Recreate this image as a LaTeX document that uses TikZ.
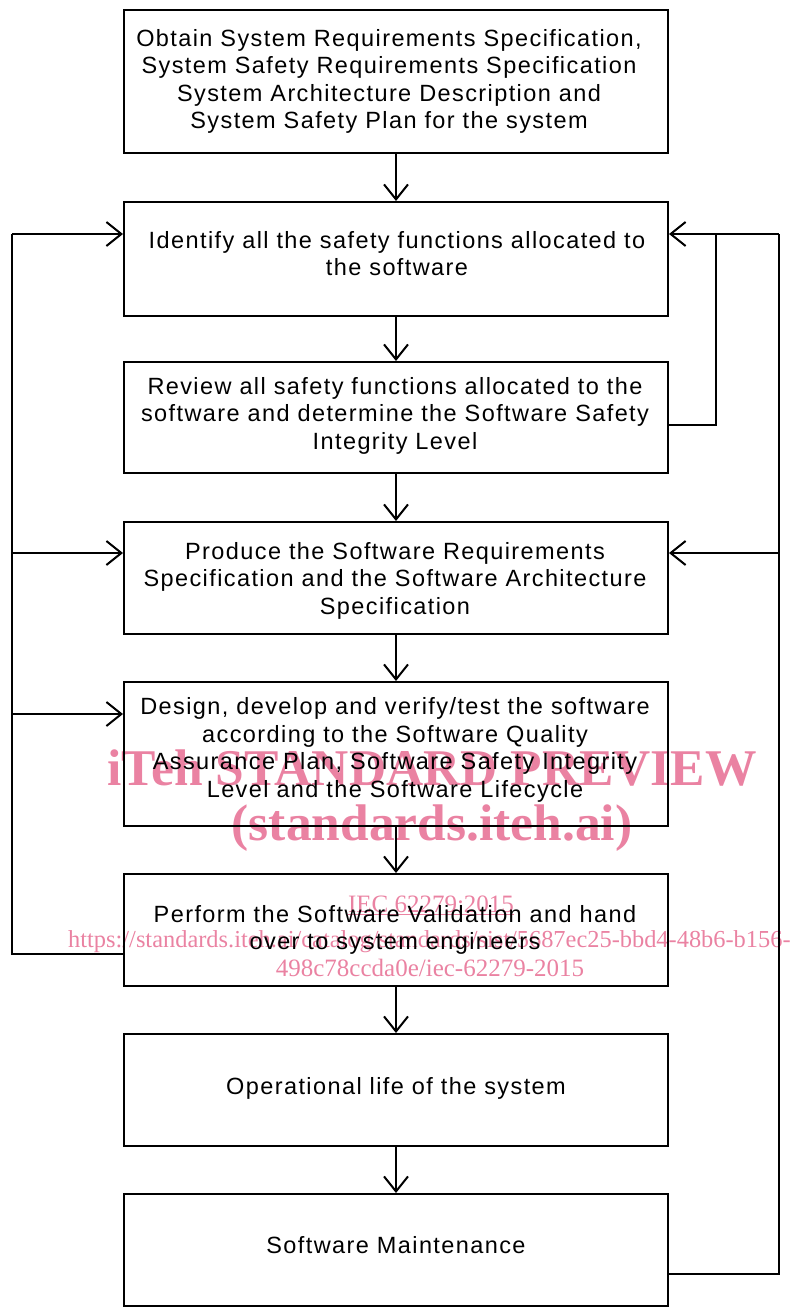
\documentclass[tikz,border=0pt]{standalone}
\usepackage{fontspec}
\setmainfont{Liberation Sans}[LetterSpace=6]
\newfontfamily\wmfont{Liberation Serif}
\usetikzlibrary{arrows.meta}
\definecolor{wmpink}{RGB}{234,130,162}
\begin{document}
\begin{tikzpicture}[x=1pt,y=-1pt,
  box/.style={draw,line width=2pt,minimum width=544pt,inner sep=0pt},
  txt/.style={align=center,inner sep=0pt,font=\fontsize{23.5}{27.5}\selectfont},
  flow/.style={line width=2pt,-{Straight Barb[length=15pt,width=24pt,line width=2pt]}},
  link/.style={line width=2pt},
  wm/.style={text=wmpink,inner sep=0pt}]
\useasboundingbox (0,0) rectangle (791,1315);
% watermark
\begin{scope}
\clip (0,0) rectangle (791,1315);
\node[wm,font=\wmfont\bfseries\fontsize{51.5}{51.5}\selectfont] (wm1) at (432,768) {iTeh STANDARD PREVIEW};
\node[wm,font=\wmfont\bfseries\fontsize{51.5}{51.5}\selectfont] (wm2) at (432,828) {(standards.iteh.ai)};
\node[wm,font=\wmfont\fontsize{25}{25}\selectfont] (wm3) at (431,905) {\underline{IEC 62279:2015}};
\node[wm,font=\wmfont\fontsize{24.4}{24.4}\selectfont,anchor=west] (wm4) at (68,942) {https://standards.iteh.ai/catalog/standards/sist/5687ec25-bbd4-48b6-b156-};
\node[wm,font=\wmfont\fontsize{25}{25}\selectfont] (wm5) at (430,968) {498c78ccda0e/iec-62279-2015};
\end{scope}
% boxes
\node[box,minimum height=143pt] (b1) at (396,81.5) {};
\node[box,minimum height=114pt] (b2) at (396,259) {};
\node[box,minimum height=111pt] (b3) at (396,417.5) {};
\node[box,minimum height=112pt] (b4) at (396,578) {};
\node[box,minimum height=144pt] (b5) at (396,754) {};
\node[box,minimum height=112pt] (b6) at (396,930) {};
\node[box,minimum height=112pt] (b7) at (396,1090) {};
\node[box,minimum height=112pt] (b8) at (396,1250) {};
% texts
\node[txt] (t1) at (389,81.5) {Obtain System Requirements Specification,\\System Safety Requirements Specification\\System Architecture Description and\\System Safety Plan for the system};
\node[txt] (t2) at (397,253.5) {Identify all the safety functions allocated to\\the software};
\node[txt] (t3) at (395,415.5) {Review all safety functions allocated to the\\software and determine the Software Safety\\Integrity Level};
\node[txt] (t4) at (395,580.5) {Produce the Software Requirements\\Specification and the Software Architecture\\Specification};
\node[txt] (t5) at (395,750) {Design, develop and verify/test the software\\according to the Software Quality\\Assurance Plan, Software Safety Integrity\\Level and the Software Lifecycle};
\node[txt] (t6) at (395,930) {Perform the Software Validation and hand\\over to system engineers};
\node[txt] (t7) at (396,1088) {Operational life of the system};
\node[txt] (t8) at (396,1245) {Software Maintenance};
% main flow
\draw[flow] (b1) -- (b2);
\draw[flow] (b2) -- (b3);
\draw[flow] (b3) -- (b4);
\draw[flow] (b4) -- (b5);
\draw[flow] (b5) -- (b6);
\draw[flow] (b6) -- (b7);
\draw[flow] (b7) -- (b8);
% left loop
\coordinate (lbot) at (12,954);
\coordinate (ltop) at (12,234);
\coordinate (l4) at (12,553);
\coordinate (l5) at (12,714);
\draw[link] (b6.west |- lbot) -- (lbot) -- (ltop);
\draw[flow] (ltop) -- (ltop -| b2.west);
\draw[flow] (l4) -- (l4 -| b4.west);
\draw[flow] (l5) -- (l5 -| b5.west);
% right inner loop
\coordinate (r3) at (716,425);
\coordinate (rtop) at (716,234);
\draw[link] (r3 -| b3.east) -- (r3) -- (rtop);
% right outer loop
\coordinate (r8) at (779,1274);
\coordinate (otop) at (779,234);
\coordinate (o4) at (779,553);
\draw[link] (r8 -| b8.east) -- (r8) -- (otop);
\draw[flow] (otop) -- (otop -| b2.east);
\draw[flow] (o4) -- (o4 -| b4.east);
\end{tikzpicture}
\end{document}
